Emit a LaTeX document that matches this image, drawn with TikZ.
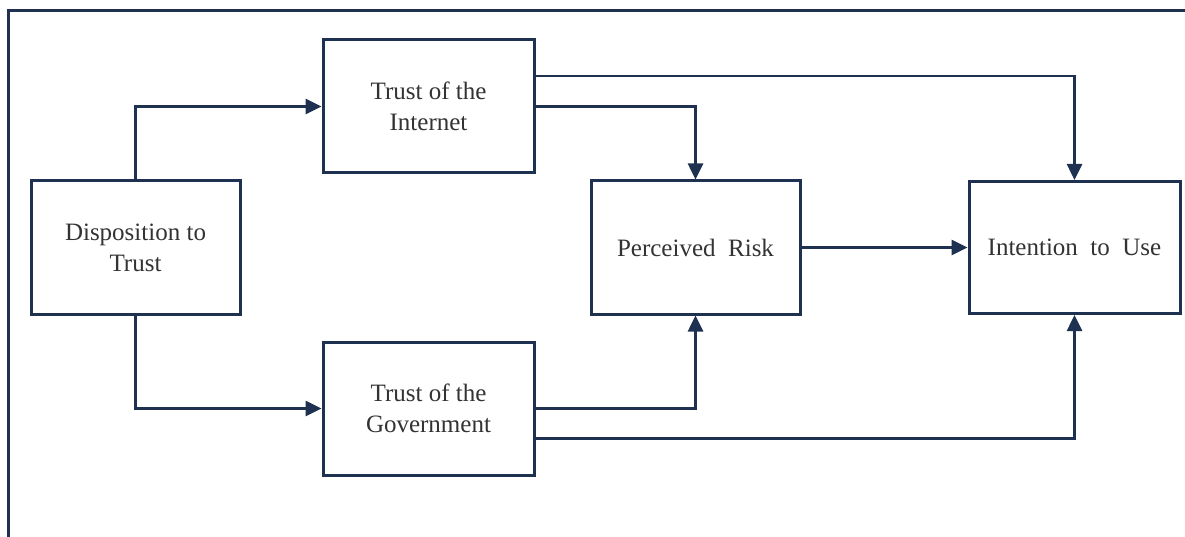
\documentclass[tikz,border=0pt]{standalone}
\usepackage{fontspec}
\setmainfont{Liberation Serif}
\usetikzlibrary{arrows.meta}
\definecolor{navy}{HTML}{1E3150}
\definecolor{txt}{HTML}{333333}
\tikzset{
  box/.style={draw=navy, line width=3pt, fill=white, align=center,
    text=txt, inner sep=0pt, font=\fontsize{25}{31}\selectfont},
  link/.style={draw=navy, line width=2.6pt,
    -{Triangle[length=16pt,width=15pt]}},
}
\begin{document}
\begin{tikzpicture}[x=1pt,y=-1pt]
  \useasboundingbox (0,0) rectangle (1185,537);
  % outer frame, open to the right and bottom
  \draw[navy, line width=3pt] (8,537) -- (8,11) -- (1185,11);

  \node[box, minimum width=209pt, minimum height=133pt] (disp) at (135.5,247.5) {Disposition to\\Trust};
  \node[box, minimum width=211pt, minimum height=133pt] (inet) at (428.5,106.5) {Trust of the\\Internet};
  \node[box, minimum width=211pt, minimum height=133pt] (gov)  at (428.5,408.5) {Trust of the\\Government};
  \node[box, minimum width=209pt, minimum height=133pt] (risk) at (695.5,247.5) {Perceived\enspace Risk};
  \node[box, minimum width=211pt, minimum height=132pt] (use)  at (1074.5,247.5) {Intention\enspace to\enspace Use};

  \draw[link] (disp.north) |- (inet.west);
  \draw[link] (disp.south) |- (gov.west);
  \draw[link] ([yshift=30.5pt]inet.east) -| (use.north);
  \draw[link] (inet.east) -| (risk.north);
  \draw[link] (gov.east) -| (risk.south);
  \draw[link] ([yshift=-30pt]gov.east) -| (use.south);
  \draw[link] (risk.east) -- (use.west);
\end{tikzpicture}
\end{document}
